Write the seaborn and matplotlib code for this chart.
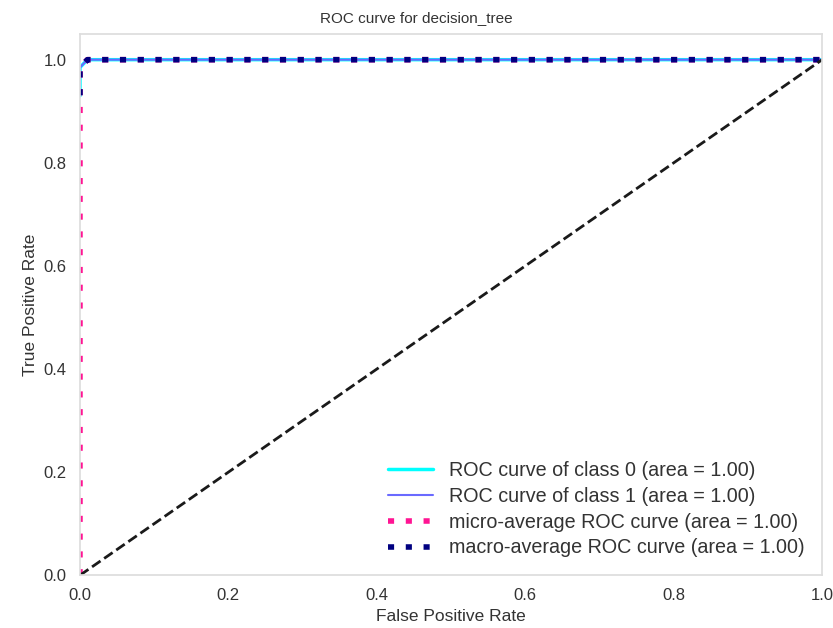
import matplotlib
matplotlib.use("Agg")
import matplotlib.pyplot as plt
import seaborn as sns

sns.set_theme(style="white")
plt.rcParams['font.family'] = ['Liberation Sans', 'DejaVu Sans']

fpr_class0 = [0.0, 0.0, 0.01, 1.0]
tpr_class0 = [0.93, 0.985, 1.0, 1.0]
fpr_class1 = [0.0, 0.0, 0.01, 1.0]
tpr_class1 = [0.93, 0.985, 1.0, 1.0]
fpr_micro = [0.0, 0.0, 0.01, 1.0]
tpr_micro = [0.0, 0.985, 1.0, 1.0]
fpr_macro = [0.0, 0.0, 0.01, 1.0]
tpr_macro = [0.931, 0.985, 1.0, 1.0]
diag = [0.0, 1.0]

labels = ["ROC curve of class 0 (area = 1.00)",
          "ROC curve of class 1 (area = 1.00)",
          "micro-average ROC curve (area = 1.00)",
          "macro-average ROC curve (area = 1.00)"]

fig = plt.figure(figsize=(8.33, 6.28), dpi=100)
ax = fig.add_axes([0.096, 0.084, 0.891, 0.862])

dotted = (0, (1.1, 2.1))
sns.lineplot(x=fpr_class0, y=tpr_class0, estimator=None, sort=False, ax=ax,
             color="aqua", lw=2.5, label=labels[0])
sns.lineplot(x=fpr_class1, y=tpr_class1, estimator=None, sort=False, ax=ax,
             color="#6a6aff", lw=1.5, label=labels[1])
sns.lineplot(x=fpr_micro, y=tpr_micro, estimator=None, sort=False, ax=ax,
             color="deeppink", lw=4, linestyle=dotted, label=labels[2])
sns.lineplot(x=fpr_macro, y=tpr_macro, estimator=None, sort=False, ax=ax,
             color="navy", lw=4, linestyle=dotted, label=labels[3])
ax.plot(diag, diag, "k--", lw=2)

ax.set_xlim(0.0, 1.0)
ax.set_ylim(0.0, 1.05)
ax.set_xticks([0, 0.2, 0.4, 0.6, 0.8, 1.0])
ax.set_yticks([0, 0.2, 0.4, 0.6, 0.8, 1.0])
ax.tick_params(labelsize=12, colors="#333333")
ax.set_xlabel("False Positive Rate", fontsize=12.5, color="#333333")
ax.set_ylabel("True Positive Rate", fontsize=12.5, color="#333333")
fig.suptitle("ROC curve for decision_tree", x=0.5, y=0.971, va="center",
             fontsize=11, color="#333333")
for s in ax.spines.values():
    s.set_color("#dddddd")
leg = ax.legend(loc="lower right", frameon=False, fontsize=14.2,
                labelspacing=0.35, handlelength=2.3)
for t in leg.get_texts():
    t.set_color("#333333")

fig.savefig("out.png", dpi=100)
